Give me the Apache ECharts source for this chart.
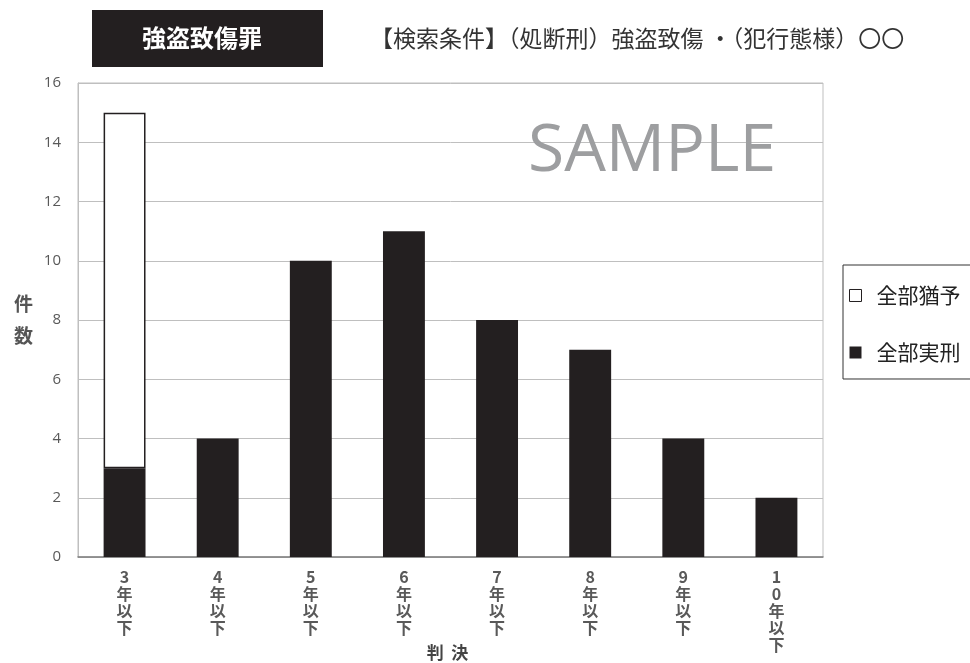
<!DOCTYPE html>
<html>
<head>
<meta charset="utf-8">
<script src="https://cdn.jsdelivr.net/npm/echarts@6/dist/echarts.min.js"></script>
<style>
  html, body { margin: 0; padding: 0; background: #fff; }
  #chart1 { width: 970px; height: 663px; }
</style>
</head>
<body>
<div id="chart1"></div>
<script>
// 判決区分
var categories = ['3年以下', '4年以下', '5年以下', '6年以下', '7年以下', '8年以下', '9年以下', '10年以下'];
var jikkei = [3, 4, 10, 11, 8, 7, 4, 2];   // 全部実刑
var yuyo = [12, 0, 0, 0, 0, 0, 0, 0];      // 全部猶予
var yTicks = { min: 0, max: 16, interval: 2 };

var font = '"Noto Sans CJK JP", "Noto Sans", sans-serif';
var chart = echarts.init(document.getElementById('chart1'));

chart.setOption({
  animation: false,
  textStyle: { fontFamily: font },
  graphic: [
    {
      type: 'rect',
      shape: { x: 92, y: 10, width: 231, height: 57 },
      style: { fill: '#231f20' }
    },
    {
      type: 'text',
      x: 202, y: 38,
      style: {
        text: '強盗致傷罪', fill: '#fff', font: 'bold 24px ' + font,
        align: 'center', verticalAlign: 'middle'
      }
    },
    {
      type: 'text',
      x: 370, y: 38,
      style: {
        text: '【検索条件】（処断刑）強盗致傷 ・（犯行態様）〇〇', fill: '#333',
        font: '23px ' + font, verticalAlign: 'middle'
      }
    },
    {
      type: 'text',
      x: 652, y: 152, z: 10,
      style: {
        text: 'SAMPLE', fill: '#9d9ea0', font: '66px "Open Sans", sans-serif',
        align: 'center', verticalAlign: 'middle'
      }
    }
  ],
  grid: {
    left: 78, right: 147, top: 83, bottom: 106,
    outerBoundsMode: 'none',
    show: true, borderColor: '#bfbfbf', borderWidth: 1
  },
  legend: {
    data: [
      { name: '全部猶予', itemStyle: { borderWidth: 1 } },
      { name: '全部実刑' }
    ],
    orient: 'vertical',
    left: 843, top: 265,
    padding: [20, 60, 16, 6],
    itemGap: 36,
    icon: 'rect', itemWidth: 12, itemHeight: 12,
    borderColor: '#333', borderWidth: 1,
    textStyle: { fontSize: 21, color: '#222', fontFamily: font, padding: [0, 0, 0, 10] }
  },
  xAxis: {
    type: 'category',
    data: categories,
    name: '判  決',
    nameLocation: 'middle',
    nameGap: 87,
    nameMoveOverlap: false,
    nameTextStyle: { fontSize: 17, fontWeight: 'bold', color: '#444', padding: [0, 6, 0, 0] },
    axisLine: { lineStyle: { color: '#7f7f7f', width: 1.5 } },
    axisTick: { show: false },
    axisLabel: {
      interval: 0, margin: 11, color: '#595959', fontWeight: 'bold',
      fontSize: 16, lineHeight: 17, verticalAlign: 'top',
      formatter: function (v) { return v.split('').join('\n'); }
    }
  },
  yAxis: {
    type: 'value',
    min: yTicks.min, max: yTicks.max, interval: yTicks.interval,
    name: '件\n数',
    nameLocation: 'middle',
    nameRotate: 0,
    nameGap: 45,
    nameTextStyle: { fontSize: 19, fontWeight: 'bold', color: '#555', lineHeight: 32 },
    axisLine: { show: true, lineStyle: { color: '#bfbfbf' } },
    axisTick: { show: false },
    axisLabel: { color: '#595959', fontSize: 15, margin: 17, fontFamily: '"Open Sans", sans-serif' },
    splitLine: { lineStyle: { color: '#bfbfbf' } }
  },
  series: [
    {
      name: '全部実刑',
      type: 'bar',
      stack: 'total',
      barWidth: '45%',
      itemStyle: { color: '#231f20' },
      data: jikkei
    },
    {
      name: '全部猶予',
      type: 'bar',
      stack: 'total',
      barWidth: '45%',
      itemStyle: { color: '#fff', borderColor: '#231f20', borderWidth: 1.5 },
      data: yuyo.map(function (v) { return v === 0 ? null : v; })
    }
  ]
});
</script>
</body>
</html>
